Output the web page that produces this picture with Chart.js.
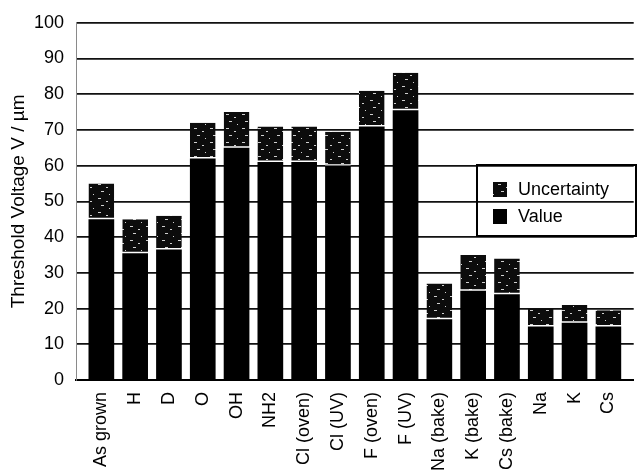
<!DOCTYPE html>
<html>
<head>
<meta charset="utf-8">
<title>Threshold voltage by surface termination</title>
<script src="https://cdn.jsdelivr.net/npm/chart.js@4.4.1/dist/chart.umd.min.js"></script>
<style>
  html, body { margin: 0; padding: 0; background: #fff; }
  #wrap { width: 642px; height: 470px; }
</style>
</head>
<body>
<div id="wrap"><canvas id="chart" width="642" height="470"></canvas></div>
<script>
// Surface treatments along the x axis
const categories = ['As grown', 'H', 'D', 'O', 'OH', 'NH2', 'Cl (oven)', 'Cl (UV)',
  'F (oven)', 'F (UV)', 'Na (bake)', 'K (bake)', 'Cs (bake)', 'Na', 'K', 'Cs'];

// Measured threshold voltage (V/µm)
const value = [45, 35.5, 36.5, 62, 65, 61, 61, 60, 71, 75.5, 17, 25, 24, 15, 16, 15];

// Uncertainty stacked on top of each value (V/µm)
const uncertainty = [10, 9.5, 9.5, 10, 10, 10, 10, 9.5, 10, 10.5, 10, 10, 10, 5, 5, 4.5];

// Y axis range and step
const yTicks = { min: 0, max: 100, step: 10 };

const FONT = '"Liberation Sans", Arial, Helvetica, sans-serif';

// Speckled dark fill used for the uncertainty segments
function speckleFill() {
  const c = document.createElement('canvas');
  c.width = 16; c.height = 14;
  const g = c.getContext('2d');
  g.fillStyle = '#0c0c0c';
  g.fillRect(0, 0, 16, 14);
  g.fillStyle = '#d0d0d0';
  g.fillRect(2, 2, 3, 1);
  g.fillRect(10, 5, 2, 1);
  g.fillRect(5, 9, 3, 1);
  g.fillRect(13, 12, 1, 1);
  return g.createPattern(c, 'repeat');
}
const uncFill = speckleFill();

// Framed legend drawn inside the plot area (top entry = top of stack)
const boxLegend = {
  id: 'boxLegend',
  afterDraw(chart, args, o) {
    const ctx = chart.ctx;
    ctx.save();
    ctx.strokeStyle = '#000';
    ctx.lineWidth = 2;
    ctx.strokeRect(o.left, o.top, o.width, o.height);
    ctx.font = '18px ' + FONT;
    ctx.textBaseline = 'middle';
    ctx.textAlign = 'left';
    const items = chart.data.datasets.slice().reverse();
    items.forEach((ds, i) => {
      const cy = o.firstRow + i * o.rowGap;
      ctx.fillStyle = ds.backgroundColor;
      ctx.fillRect(o.swatchX, cy - 7.5, 14, 15);
      ctx.fillStyle = '#000';
      ctx.fillText(ds.label, o.textX, cy + 1);
    });
    ctx.restore();
  }
};

const datasets = [
  {
    label: 'Value',
    data: value.map((v, i) => ({ x: i, y: v })),
    backgroundColor: '#000',
    borderWidth: 0
  },
  {
    label: 'Uncertainty',
    data: uncertainty.map((v, i) => ({ x: i, y: v })),
    backgroundColor: uncFill,
    borderColor: '#fff',
    borderWidth: { top: 0, left: 0, right: 0, bottom: 1.5 },
    borderSkipped: false
  }
];

new Chart(document.getElementById('chart'), {
  type: 'bar',
  data: { datasets },
  options: {
    responsive: false,
    animation: false,
    layout: { padding: { top: 20, right: 1, bottom: 0, left: 0 } },
    datasets: { bar: { barPercentage: 0.76, categoryPercentage: 1 } },
    plugins: {
      legend: { display: false },
      tooltip: { enabled: false },
      boxLegend: {
        left: 477, top: 165, width: 159, height: 71,
        swatchX: 493, textX: 518, firstRow: 189.5, rowGap: 27
      }
    },
    scales: {
      x: {
        type: 'linear',
        stacked: true,
        offset: false,
        bounds: 'data',
        min: -0.75,
        max: categories.length - 0.25,
        afterBuildTicks: s => { s.ticks = categories.map((_, i) => ({ value: i })); },
        afterFit: s => { s.height = 90; },
        grid: { display: false, drawTicks: false, offset: false },
        border: { display: true, color: '#000', width: 2 },
        ticks: {
          autoSkip: false,
          minRotation: 90,
          maxRotation: 90,
          padding: 12,
          color: '#000',
          font: { family: FONT, size: 18 },
          callback: v => categories[v]
        }
      },
      y: {
        stacked: true,
        min: yTicks.min,
        max: yTicks.max,
        afterFit: s => { s.width = 76; },
        grid: { color: '#111', lineWidth: 1.7, drawTicks: false },
        border: { display: true, color: '#8a8a8a', width: 1 },
        ticks: {
          stepSize: yTicks.step,
          padding: 12,
          color: '#000',
          font: { family: FONT, size: 18 }
        },
        title: {
          display: true,
          text: 'Threshold Voltage V / µm',
          color: '#000',
          font: { family: FONT, size: 19 },
          padding: { top: 7, bottom: 0 }
        }
      }
    }
  },
  plugins: [boxLegend]
});
</script>
</body>
</html>
